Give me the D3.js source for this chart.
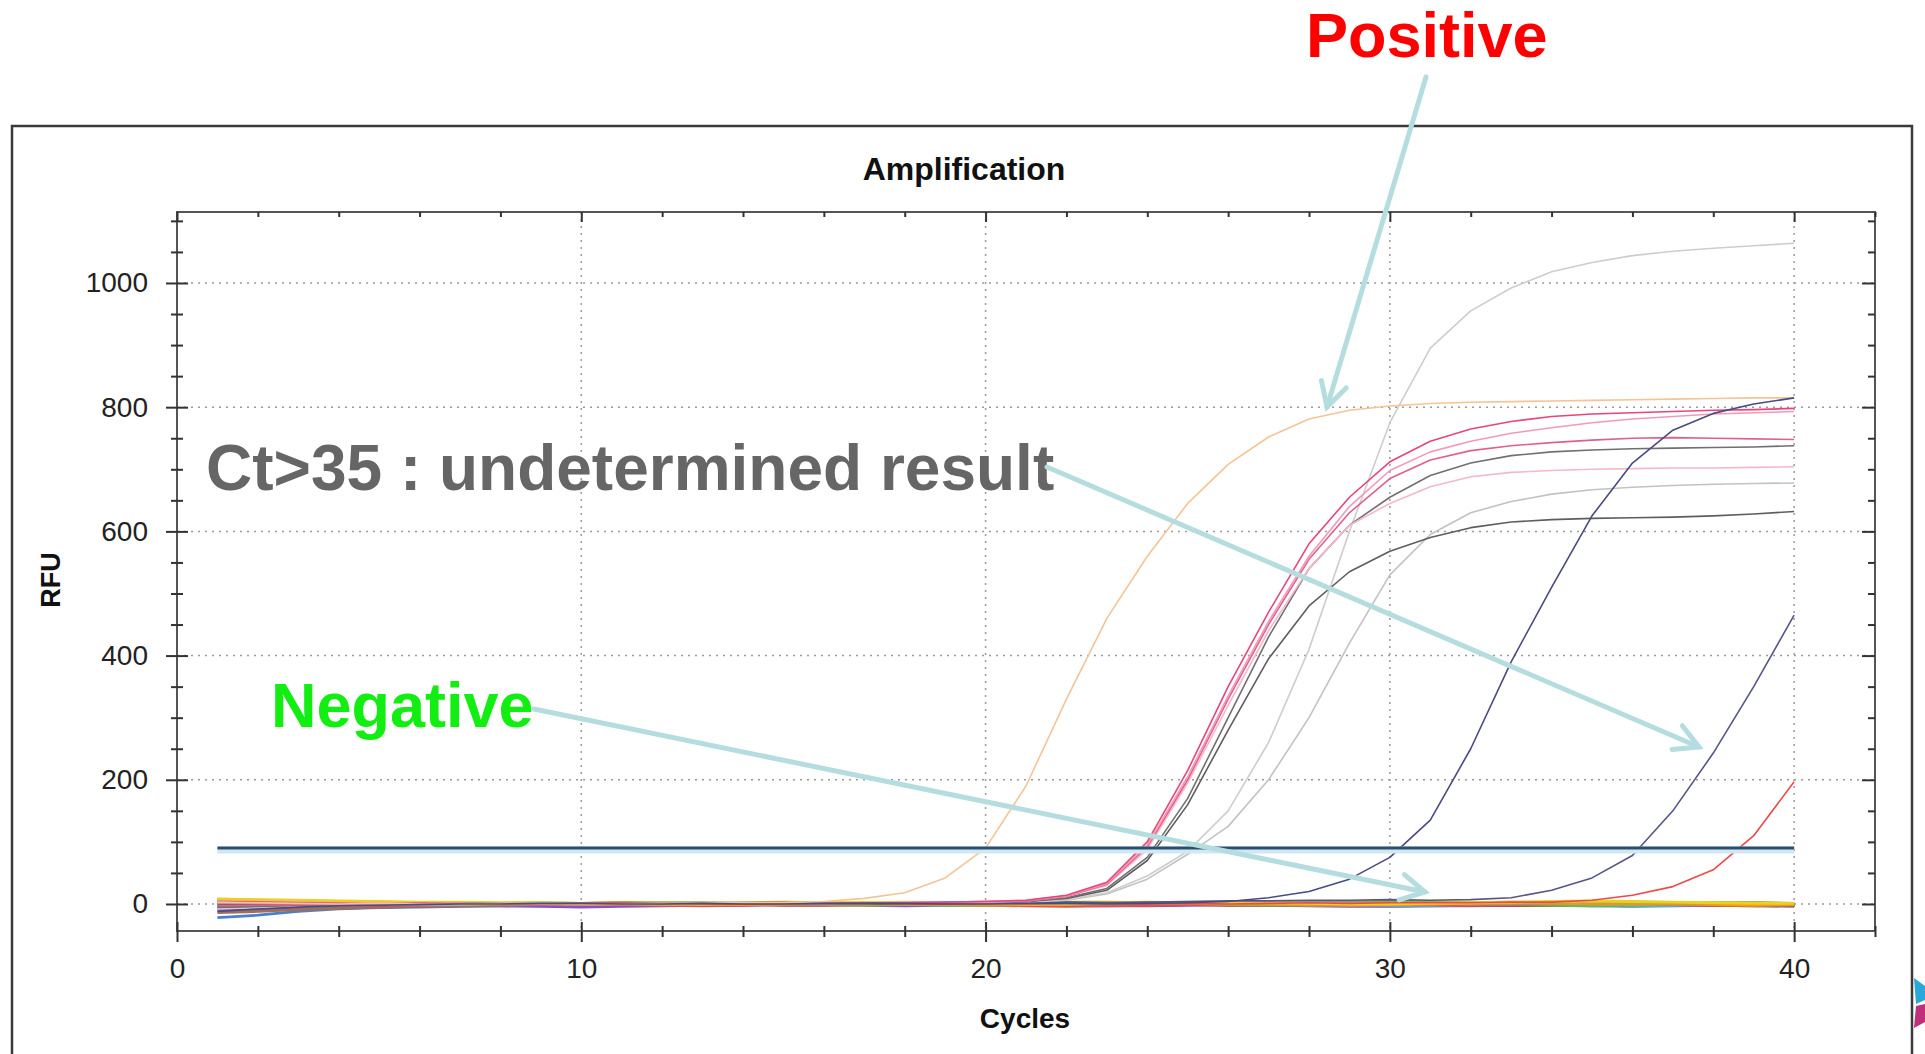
<!DOCTYPE html>
<html>
<head>
<meta charset="utf-8">
<script src="https://cdn.jsdelivr.net/npm/d3@7"></script>
<style>
body { margin: 0; background: #fff; }
svg { font-family: "Liberation Sans", Arial, sans-serif; }
</style>
</head>
<body>
<div id="chart"></div>
<script>
// data (RFU per cycle)
const cycles = [1,2,3,4,5,6,7,8,9,10,11,12,13,14,15,16,17,18,19,20,21,22,23,24,25,26,27,28,29,30,31,32,33,34,35,36,37,38,39,40]
const xTicks = [0,10,20,30,40]
const yTicks = [0,200,400,600,800,1000]
const threshold = 90

// positive curves
const orange = [3,2,1,0,1,0,-1,0,1,0,0,1,1,2,2,4,9,18,42,90,190,330,460,560,645,708,752,781,795,802,806,808,809,810,811,812,813,814,815,815]
const pinkA = [4,3,2,1,0,1,0,-1,0,1,1,0,1,0,1,1,2,2,3,4,6,14,35,100,215,350,470,580,655,712,745,765,777,785,789,791,793,795,796,798]
const pinkB = [5,4,3,2,2,1,1,0,0,1,0,0,1,1,1,2,2,3,3,4,6,13,33,95,205,335,455,560,640,698,728,745,758,767,775,781,785,789,791,793]
const pinkC = [-3,-2,-1,0,0,1,1,0,-1,0,0,1,0,0,1,1,1,2,3,4,5,12,32,92,200,330,450,555,630,685,715,730,738,743,747,750,751,750,749,748]
const pinkE = [2,2,1,1,0,0,0,1,1,0,0,0,1,1,1,1,2,2,3,3,5,12,30,88,195,320,440,540,610,645,672,688,695,698,700,701,702,702,703,704]
const grayD = [-5,-4,-2,-1,0,0,1,1,0,0,1,1,0,1,1,1,1,2,2,3,4,10,25,75,170,300,430,540,610,655,690,710,722,728,731,733,734,735,736,738]
const grayG = [0,0,1,1,0,0,-1,0,0,1,1,0,0,1,1,1,1,2,2,3,4,9,22,70,160,280,395,480,535,568,590,606,615,619,621,622,623,625,628,632]
const lightTop = [-8,-6,-4,-3,-2,-1,-1,0,0,0,1,0,0,1,1,1,1,2,2,3,4,7,18,45,85,150,260,410,600,775,895,955,992,1018,1033,1044,1051,1056,1060,1064]
const lightLow = [1,1,0,0,0,1,0,0,0,1,0,0,1,1,1,1,1,2,2,2,3,6,16,40,80,125,200,300,420,530,595,630,648,660,667,671,674,676,677,678]
const navy1 = [-12,-8,-5,-3,-2,-1,0,0,1,1,0,0,1,0,0,1,1,1,0,0,1,1,0,1,2,4,10,20,40,75,135,250,390,510,625,710,763,790,805,815]
// late curves (Ct>35)
const navy2 = [-3,-2,-1,0,0,1,0,0,-1,0,0,1,0,0,1,1,0,1,1,2,2,3,2,3,4,5,5,6,6,7,6,7,10,22,42,78,150,243,350,465]
const red = [1,0,0,-1,0,1,0,0,1,0,-1,0,0,1,0,0,1,0,0,1,0,1,1,0,1,0,1,2,1,2,2,2,3,3,6,14,28,55,110,197]

// negative curves (baseline noise)
const neg1 = [6,5,4,3,2,2,1,1,0,1,2,1,0,-1,0,1,2,1,0,-1,0,1,2,3,2,1,0,-1,-2,-1,0,1,2,3,2,1,0,-1,-2,-1]
const neg2 = [8,7,6,5,4,3,3,2,2,1,1,0,0,1,1,2,2,3,2,1,0,0,1,2,3,3,2,1,0,0,1,2,3,4,5,4,3,2,1,1]
const neg3 = [3,2,2,1,1,0,-1,-1,0,1,1,2,2,1,0,-1,-2,-1,0,1,2,3,3,2,1,0,1,2,3,4,3,2,1,0,-1,0,1,2,2,1]
const neg4 = [-2,-2,-1,-1,0,0,1,1,2,1,0,-1,-1,0,1,1,0,-1,-2,-2,-1,0,1,1,0,-1,-2,-1,0,1,1,0,-1,-2,-3,-2,-1,0,0,-1]
const neg5 = [-22,-18,-12,-8,-6,-5,-4,-3,-3,-2,-2,-1,-1,0,0,-1,-1,0,0,1,0,-1,-2,-2,-1,0,0,-1,-2,-3,-3,-2,-1,-2,-3,-4,-3,-2,-3,-4]
const neg6 = [-10,-9,-8,-7,-5,-4,-3,-3,-4,-5,-4,-3,-2,-2,-1,-1,-2,-3,-2,-1,-1,-2,-3,-3,-2,-1,-2,-3,-4,-4,-3,-3,-2,-2,-1,-1,-2,-2,-1,-1]
const neg7 = [2,1,0,-1,-2,-2,-1,0,1,0,-1,-2,-3,-2,-1,0,1,0,-1,-2,-3,-4,-3,-2,-1,0,1,2,1,0,-1,-2,-1,0,1,0,-1,-2,-3,-2]
const neg8 = [-6,-5,-4,-3,-2,-2,-1,-1,0,0,-1,-1,0,0,1,0,-1,-1,0,0,1,1,0,-1,-1,0,1,0,-1,-2,-2,-1,0,-1,-2,-3,-2,-1,-1,-2]
const neg9 = [-14,-12,-9,-7,-5,-4,-3,-2,-1,-1,0,0,1,0,-1,0,1,2,1,0,1,0,-1,-2,-1,0,1,2,3,4,3,2,3,2,1,0,-1,0,1,0]
const neg10 = [4,4,3,3,2,2,2,1,1,1,0,0,-1,-1,0,0,1,1,2,2,1,0,0,1,1,2,2,3,2,1,1,0,0,1,2,3,2,1,0,0]
const neg11 = [-4,-4,-3,-3,-2,-1,0,0,1,1,2,1,0,-1,-2,-2,-1,0,0,1,2,2,1,0,-1,-2,-2,-1,0,1,0,-1,-2,-2,-1,0,0,-1,-2,-2]
const neg12 = [7,6,5,4,3,2,1,0,0,-1,-1,0,1,2,3,2,1,0,-1,-2,-1,0,1,2,1,0,-1,-2,-1,0,1,2,2,1,0,-1,0,1,2,1]

// table of series -> colour
const series = [
    {v: neg5, c: "#4a7fd0", w: 2.8}, {v: neg6, c: "#8a4fc8", w: 2.8}, {v: neg9, c: "#a07050", w: 2.8},
    {v: neg8, c: "#4ac0d0", w: 2.8}, {v: neg11, c: "#b03a3a", w: 2.8}, {v: neg4, c: "#5cb85c", w: 2.8},
    {v: neg7, c: "#e0524a", w: 2.8}, {v: neg3, c: "#9aab3a", w: 2.8}, {v: neg10, c: "#8a9a70", w: 2.8},
    {v: neg1, c: "#f39c12", w: 2.8}, {v: neg12, c: "#c8a040", w: 2.8}, {v: neg2, c: "#e8d21e", w: 2.8},
    {v: red, c: "#f04848", w: 1.6}, {v: navy2, c: "#55558a", w: 1.6},
    {v: lightLow, c: "#c2c2c2", w: 1.6}, {v: lightTop, c: "#cdcdcd", w: 1.6},
    {v: grayG, c: "#5e5e5e", w: 1.6}, {v: grayD, c: "#707070", w: 1.6},
    {v: pinkE, c: "#f5b8c8", w: 1.6}, {v: pinkC, c: "#e0608c", w: 1.6},
    {v: pinkB, c: "#f29ab5", w: 1.6}, {v: pinkA, c: "#e8457a", w: 1.6},
    {v: orange, c: "#f5c495", w: 1.6}, {v: navy1, c: "#4a4a84", w: 1.6}
]

const W = 1925, H = 1054
const svg = d3.select("#chart").append("svg")
    .attr("width", W)
    .attr("height", H)

// outer frame
svg.append("rect")
    .attr("x", 12).attr("y", 126)
    .attr("width", 1900).attr("height", 960)
    .attr("fill", "none")
    .attr("stroke", "#3a3a3a")
    .attr("stroke-width", 2.5)

// bit of logo peeking at bottom right
svg.append("path").attr("d", "M1914,978 L1925,986 L1925,1000 L1916,1004 Z").attr("fill", "#2aa8d8")
svg.append("path").attr("d", "M1916,1006 L1925,1004 L1925,1022 L1914,1028 Z").attr("fill", "#c0307a")

// scales
const x = d3.scaleLinear().domain([0, 42]).range([177, 1875])
const y = d3.scaleLinear().domain([-43.5, 1114.3]).range([931, 212])

// grid
const grid = svg.append("g")
    .attr("stroke", "#9a9a9a")
    .attr("stroke-width", 1.5)
    .attr("stroke-dasharray", "2,5")
grid.selectAll(".hg").data(yTicks).enter().append("line")
    .attr("x1", x(0)).attr("x2", x(42))
    .attr("y1", d => y(d)).attr("y2", d => y(d))
grid.selectAll(".vg").data(xTicks.slice(1)).enter().append("line")
    .attr("x1", d => x(d)).attr("x2", d => x(d))
    .attr("y1", y(1114.3)).attr("y2", y(-43.5))

// plot border
svg.append("rect")
    .attr("x", x(0)).attr("y", y(1114.3))
    .attr("width", x(42) - x(0)).attr("height", y(-43.5) - y(1114.3))
    .attr("fill", "none")
    .attr("stroke", "#555")
    .attr("stroke-width", 2)

const xMinor = d3.range(0, 42.1, 2).filter(d => d % 10 != 0)
const yMinor = d3.range(-0, 1101, 50).filter(d => d % 200 != 0)

function styleAxis(g) {
    g.select(".domain").remove()
    g.selectAll("line").attr("stroke", "#333").attr("stroke-width", 2)
    g.selectAll("text").attr("font-size", 28).attr("fill", "#222")
}

// left axis
svg.append("g").attr("transform", `translate(${x(0)},0)`)
    .call(d3.axisLeft(y).tickValues(yTicks).tickFormat(d3.format("d")).tickSizeInner(11).tickSizeOuter(0).tickPadding(18))
    .call(styleAxis)
svg.append("g").attr("transform", `translate(${x(0)},0)`)
    .call(d3.axisLeft(y).tickValues(yTicks).tickSizeInner(-11).tickSizeOuter(0).tickFormat(""))
    .call(styleAxis)
svg.append("g").attr("transform", `translate(${x(0)},0)`)
    .call(d3.axisLeft(y).tickValues(yMinor).tickSizeInner(6).tickSizeOuter(0).tickFormat(""))
    .call(styleAxis)
svg.append("g").attr("transform", `translate(${x(0)},0)`)
    .call(d3.axisLeft(y).tickValues(yMinor).tickSizeInner(-6).tickSizeOuter(0).tickFormat(""))
    .call(styleAxis)

// right axis (inner ticks only)
svg.append("g").attr("transform", `translate(${x(42)},0)`)
    .call(d3.axisRight(y).tickValues(yTicks).tickSizeInner(-13).tickSizeOuter(0).tickFormat(""))
    .call(styleAxis)
svg.append("g").attr("transform", `translate(${x(42)},0)`)
    .call(d3.axisRight(y).tickValues(yMinor).tickSizeInner(-7).tickSizeOuter(0).tickFormat(""))
    .call(styleAxis)

// bottom axis
svg.append("g").attr("transform", `translate(0,${y(-43.5)})`)
    .call(d3.axisBottom(x).tickValues(xTicks).tickSizeInner(11).tickSizeOuter(0).tickPadding(16))
    .call(styleAxis)
svg.append("g").attr("transform", `translate(0,${y(-43.5)})`)
    .call(d3.axisBottom(x).tickValues(xTicks).tickSizeInner(-9).tickSizeOuter(0).tickFormat(""))
    .call(styleAxis)
svg.append("g").attr("transform", `translate(0,${y(-43.5)})`)
    .call(d3.axisBottom(x).tickValues(xMinor).tickSizeInner(6).tickSizeOuter(0).tickFormat(""))
    .call(styleAxis)
svg.append("g").attr("transform", `translate(0,${y(-43.5)})`)
    .call(d3.axisBottom(x).tickValues(xMinor).tickSizeInner(-5).tickSizeOuter(0).tickFormat(""))
    .call(styleAxis)

// top axis (inner ticks)
svg.append("g").attr("transform", `translate(0,${y(1114.3)})`)
    .call(d3.axisTop(x).tickValues(xTicks).tickSizeInner(-10).tickSizeOuter(0).tickFormat(""))
    .call(styleAxis)
svg.append("g").attr("transform", `translate(0,${y(1114.3)})`)
    .call(d3.axisTop(x).tickValues(xMinor).tickSizeInner(-5).tickSizeOuter(0).tickFormat(""))
    .call(styleAxis)

// curves
const line = d3.line()
    .x((d, i) => x(cycles[i]))
    .y(d => y(d))

svg.append("g").selectAll("path")
    .data(series)
    .enter().append("path")
    .attr("d", d => line(d.v))
    .attr("fill", "none")
    .attr("stroke", d => d.c)
    .attr("stroke-width", d => d.w)
    .attr("stroke-linejoin", "round")

// threshold line
svg.append("line")
    .attr("x1", x(cycles[0])).attr("x2", x(cycles[cycles.length - 1]))
    .attr("y1", y(threshold) + 2).attr("y2", y(threshold) + 2)
    .attr("stroke", "#cfe8f4").attr("stroke-width", 7)
svg.append("line")
    .attr("x1", x(cycles[0])).attr("x2", x(cycles[cycles.length - 1]))
    .attr("y1", y(threshold)).attr("y2", y(threshold))
    .attr("stroke", "#2c4e6e").attr("stroke-width", 3)

// titles
svg.append("text")
    .attr("x", 964).attr("y", 180)
    .attr("text-anchor", "middle")
    .attr("font-size", 32).attr("font-weight", "bold").attr("fill", "#111")
    .text("Amplification")
svg.append("text")
    .attr("x", 1025).attr("y", 1028)
    .attr("text-anchor", "middle")
    .attr("font-size", 28).attr("font-weight", "bold").attr("fill", "#111")
    .text("Cycles")
svg.append("text")
    .attr("transform", "translate(60,580) rotate(-90)")
    .attr("text-anchor", "middle")
    .attr("font-size", 27).attr("font-weight", "bold").attr("fill", "#111")
    .text("RFU")

// annotations
function arrow(x1, y1, x2, y2) {
    const a = Math.atan2(y2 - y1, x2 - x1)
    const len = 27, spread = 0.5
    const g = svg.append("g")
        .attr("stroke", "#b5dde0")
        .attr("stroke-width", 5)
        .attr("stroke-linecap", "round")
        .attr("fill", "none")
    g.append("line").attr("x1", x1).attr("y1", y1).attr("x2", x2).attr("y2", y2)
    g.append("polyline").attr("points", [
        [x2 - len * Math.cos(a - spread), y2 - len * Math.sin(a - spread)],
        [x2, y2],
        [x2 - len * Math.cos(a + spread), y2 - len * Math.sin(a + spread)]
    ].map(p => p.join(",")).join(" "))
}

svg.append("text")
    .attr("x", 1306).attr("y", 57)
    .attr("font-size", 63).attr("font-weight", "bold").attr("fill", "#ff0000")
    .text("Positive")
svg.append("text")
    .attr("x", 206).attr("y", 490)
    .attr("font-size", 64).attr("font-weight", "bold").attr("fill", "#666666")
    .text("Ct>35 : undetermined result")
svg.append("text")
    .attr("x", 271).attr("y", 727)
    .attr("font-size", 63).attr("font-weight", "bold").attr("fill", "#12ee12")
    .text("Negative")

arrow(1426, 77, 1327, 407)
arrow(1047, 467, 1699, 747)
arrow(534, 709, 1425, 892)
</script>
</body>
</html>
